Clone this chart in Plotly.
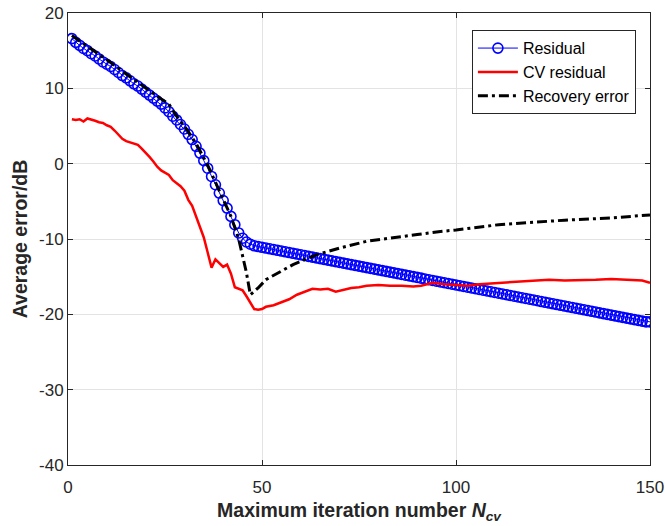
import plotly.graph_objects as go

# Residual (blue circles), one marker per iteration 1..150
res_x = list(range(1, 151))
res_y = [16.6, 16.1, 15.7, 15.3, 15.0, 14.6, 14.3, 13.9, 13.5, 13.2,
         12.9, 12.5, 12.1, 11.7, 11.4, 11.0, 10.6, 10.3, 9.9, 9.5,
         9.1, 8.7, 8.3, 7.9, 7.4, 6.9, 6.3, 5.8, 5.2, 4.6,
         3.9, 3.2, 2.3, 1.4, 0.4, -0.6, -1.7, -2.8, -3.9, -4.9,
         -5.9, -7.0, -8.1, -9.2, -9.9, -10.4, -10.7, -10.9, -11.0, -11.1,
         -11.2, -11.3, -11.4, -11.5, -11.6, -11.7, -11.8, -11.9, -12.0, -12.1,
         -12.2, -12.3, -12.4, -12.5, -12.6, -12.7, -12.8, -12.9, -13.0, -13.1,
         -13.2, -13.3, -13.4, -13.5, -13.6, -13.7, -13.8, -13.9, -14.0, -14.1,
         -14.2, -14.3, -14.4, -14.5, -14.6, -14.7, -14.8, -14.9, -15.0, -15.1,
         -15.2, -15.3, -15.4, -15.5, -15.6, -15.7, -15.8, -15.9, -16.0, -16.1,
         -16.2, -16.3, -16.4, -16.5, -16.6, -16.7, -16.8, -16.9, -17.0, -17.1,
         -17.2, -17.3, -17.4, -17.5, -17.6, -17.7, -17.8, -17.9, -18.0, -18.1,
         -18.2, -18.3, -18.4, -18.5, -18.6, -18.7, -18.8, -18.9, -19.0, -19.1,
         -19.2, -19.3, -19.4, -19.5, -19.6, -19.7, -19.8, -19.9, -20.0, -20.1,
         -20.2, -20.3, -20.4, -20.5, -20.6, -20.7, -20.8, -20.9, -21.0, -21.0]

# CV residual (red)
cv_x = [1, 2, 3, 4, 5, 6, 7, 8, 9, 10, 11, 12, 13, 14, 15, 16, 17, 18, 19, 20,
        21, 22, 23, 24, 25, 26, 27, 28, 29, 30, 31, 32, 33, 34, 35, 36, 37, 38, 39, 40,
        41, 42, 43, 44, 45, 46, 47, 48, 49, 50, 51, 53, 55, 57, 59, 61, 63, 65, 67, 69,
        71, 73, 75, 77, 80, 83, 86, 89, 91, 94, 97, 100, 103, 106, 109, 112, 116, 120,
        124, 128, 132, 136, 140, 144, 148, 150]
cv_y = [5.9, 5.8, 5.9, 5.6, 6.0, 5.9, 5.7, 5.5, 5.4, 5.1, 4.9, 4.4, 3.9, 3.3, 3.0,
        2.8, 2.6, 2.5, 2.0, 1.5, 0.9, 0.3, -0.4, -0.9, -1.2, -1.5, -2.2, -2.6, -3.0, -3.6,
        -4.8, -5.6, -7.0, -8.2, -9.8, -11.8, -13.8, -12.7, -13.2, -13.7, -13.4, -14.6,
        -16.4, -16.6, -16.8, -17.6, -18.5, -19.3, -19.4, -19.3, -19.0, -18.8, -18.4,
        -18.0, -17.4, -17.0, -16.6, -16.7, -16.6, -17.0, -16.7, -16.5, -16.4, -16.2,
        -16.1, -16.2, -16.2, -16.3, -16.2, -15.8, -16.0, -16.1, -16.2, -16.0, -15.9,
        -15.8, -15.6, -15.5, -15.4, -15.5, -15.5, -15.4, -15.3, -15.4, -15.5, -15.8]

# Recovery error (black dash-dot)
rec_x = [1, 5, 10, 15, 20, 24, 26, 28, 30, 33, 36, 38, 40, 42, 44, 46, 47, 49, 51,
         55, 58, 64, 70, 77, 85, 90, 96, 100, 111, 120, 128, 140, 150]
rec_y = [17.0, 15.6, 13.8, 11.9, 10.0, 8.6, 7.9, 6.3, 5.0, 2.7, -0.2, -2.5, -4.6,
         -7.0, -10.0, -14.5, -17.4, -16.5, -15.4, -14.2, -13.4, -12.1, -11.2, -10.3,
         -9.8, -9.4, -9.0, -8.8, -8.1, -7.8, -7.5, -7.2, -6.8]

x_ticks = [0, 50, 100, 150]
y_ticks = [-40, -30, -20, -10, 0, 10, 20]

FONT = "Liberation Sans, Arial, sans-serif"

fig = go.Figure()
fig.add_trace(go.Scatter(
    x=res_x, y=res_y, mode="lines+markers", name="Residual",
    line=dict(color="#0000ff", width=1),
    marker=dict(symbol="circle-open", size=10, color="#0000ff", line=dict(width=1.6, color="#0000ff")),
))
fig.add_trace(go.Scatter(
    x=cv_x, y=cv_y, mode="lines", name="CV residual",
    line=dict(color="#ff0000", width=2.5),
))
fig.add_trace(go.Scatter(
    x=rec_x, y=rec_y, mode="lines", name="Recovery error",
    line=dict(color="#000000", width=3, dash="10px,4px,3px,4px"),
))

axis_common = dict(
    showgrid=True, gridcolor="#e3e3e3", gridwidth=1,
    zeroline=False, showline=True, linecolor="#262626", linewidth=1,
    mirror="ticks", ticks="inside", ticklen=5, tickcolor="#262626",
    tickfont=dict(family=FONT, size=17, color="#262626"),
    automargin=False,
)

fig.update_layout(
    width=665, height=526,
    margin=dict(l=68, r=15, t=13, b=61),
    paper_bgcolor="white", plot_bgcolor="white",
    font=dict(family=FONT, color="#262626"),
    xaxis=dict(range=[0, 150], tickvals=x_ticks, ticktext=[str(v) for v in x_ticks],
               ticklabelstandoff=7,
               title=dict(text="<b>Maximum iteration number <i>N</i><sub><i>cv</i></sub></b>",
                          font=dict(size=19.5, color="#262626"), standoff=6),
               **axis_common),
    yaxis=dict(range=[-40, 20], tickvals=y_ticks, ticktext=[str(v) for v in y_ticks],
               title=dict(text="<b>Average error/dB</b>", font=dict(size=19.5, color="#262626"), standoff=6),
               **axis_common),
    legend=dict(x=0.694, y=0.962, xanchor="left", yanchor="top",
                bgcolor="white", bordercolor="#262626", borderwidth=1,
                font=dict(family=FONT, size=16, color="#000000"),
                itemwidth=40, tracegroupgap=0),
    showlegend=True,
)

fig.write_html("out.html")
